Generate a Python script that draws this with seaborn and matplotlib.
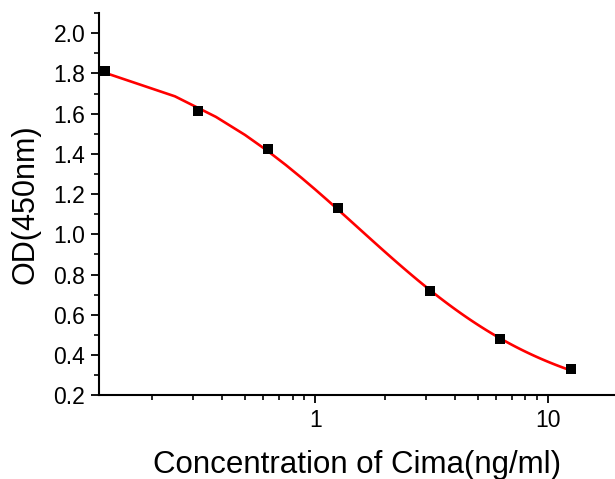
import numpy as np
import pandas as pd
import matplotlib
matplotlib.use("Agg")
import matplotlib.pyplot as plt
from matplotlib.ticker import LogLocator, FixedLocator, MultipleLocator, NullFormatter
import seaborn as sns

# ---- data ----
concentration = [0.125, 0.3125, 0.625, 1.25, 3.125, 6.25, 12.5]
od450 = [1.813, 1.613, 1.425, 1.13, 0.717, 0.477, 0.328]

x_label = "Concentration of Cima(ng/ml)"
y_label = "OD(450nm)"
y_ticks = [0.2, 0.4, 0.6, 0.8, 1.0, 1.2, 1.4, 1.6, 1.8, 2.0]
x_ticks = [1, 10]

# ---- 4-parameter logistic fit of the points (the red curve) ----
xd = np.array(concentration)
yd = np.array(od450)

def f4pl(p, x):
    A, B, C, D = p
    return D + (A - D) / (1.0 + (x / C) ** B)

p = np.array([1.95, 1.0, 1.5, 0.2])
lam = 1e-3
for _ in range(500):
    r = yd - f4pl(p, xd)
    J = np.zeros((len(xd), 4))
    for k in range(4):
        dp = np.zeros(4); dp[k] = 1e-6 * max(1.0, abs(p[k]))
        J[:, k] = (f4pl(p + dp, xd) - f4pl(p - dp, xd)) / (2 * dp[k])
    H = J.T @ J
    g = J.T @ r
    step = np.linalg.solve(H + lam * np.diag(np.diag(H)), g)
    pn = p + step
    if pn[2] > 0 and np.sum((yd - f4pl(pn, xd)) ** 2) < np.sum(r ** 2):
        p = pn; lam *= 0.5
    else:
        lam *= 4

curve_x = np.linspace(concentration[0], concentration[-1], 100)
curve_df = pd.DataFrame({"x": curve_x, "y": f4pl(p, curve_x)})
pts_df = pd.DataFrame({"x": concentration, "y": od450})

# ---- plot ----
sns.set_style("ticks")
plt.rcParams["font.family"] = ["Liberation Sans", "DejaVu Sans"]

fig = plt.figure(figsize=(6.15, 4.79), dpi=100)
ax = fig.add_axes([0.161, 0.175, 0.839, 0.7975])

sns.lineplot(data=curve_df, x="x", y="y", ax=ax, color="#ff0000", linewidth=1.9,
             sort=False, estimator=None)
sns.scatterplot(data=pts_df, x="x", y="y", ax=ax, marker="s", s=45, color="black",
                edgecolor="black", linewidth=0, zorder=5, clip_on=False)

ax.set_xscale("log")
ax.set_xlim(0.118, 19.4)
ax.set_ylim(0.2, 2.1)

ax.xaxis.set_major_locator(FixedLocator(x_ticks))
ax.set_xticklabels([str(t) for t in x_ticks])
ax.xaxis.set_minor_locator(LogLocator(base=10, subs=np.arange(2, 10), numticks=20))
ax.xaxis.set_minor_formatter(NullFormatter())

ax.yaxis.set_major_locator(FixedLocator(y_ticks))
ax.set_yticklabels([f"{t:.1f}" for t in y_ticks])
ax.yaxis.set_minor_locator(MultipleLocator(0.1))

ax.set_xlabel(x_label, fontsize=22.5, labelpad=13, color="black")
ax.set_ylabel(y_label, fontsize=22, labelpad=9, color="black")

for side in ["top", "right"]:
    ax.spines[side].set_visible(False)
for side in ["left", "bottom"]:
    ax.spines[side].set_linewidth(1.5)
    ax.spines[side].set_color("black")

ax.tick_params(axis="both", which="major", direction="out", length=6, width=1.3,
               labelsize=16.5, color="black", labelcolor="black", pad=4)
ax.tick_params(axis="both", which="minor", direction="out", length=3.5, width=1.2,
               color="black")

fig.savefig("out.png", dpi=100, facecolor="white")
